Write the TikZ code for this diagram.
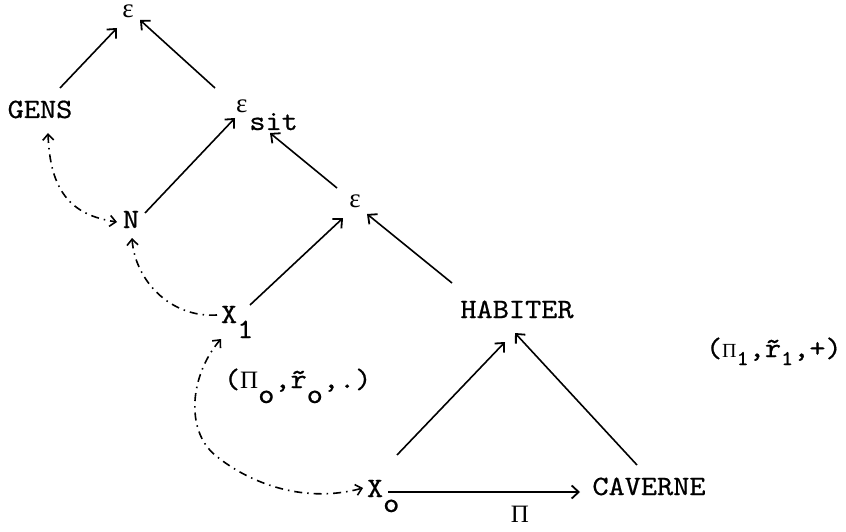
\documentclass[tikz,border=0pt]{standalone}
\usepackage{fontspec}
\usetikzlibrary{arrows.meta,calc}
\newfontfamily\tw[FakeStretch=1.1,FakeBold=0.6,Extension=.otf]{lmmono10-regular}
\newfontfamily\grk{Liberation Serif}
\newcommand\mainsz{\fontsize{28}{30}\selectfont}
\newcommand\eps{{\grk\fontsize{27}{27}\selectfont ε}}
\newcommand\bigpi{{\grk\fontsize{25}{25}\selectfont Π}}
\newcommand\smpi{{\grk\fontsize{20}{20}\selectfont Π}}
\tikzset{
  tipa/.tip={Straight Barb[length=7pt,width=13pt,line width=1.8pt]},
  tipd/.tip={Straight Barb[length=6pt,width=11pt,line width=1.6pt]},
}
\begin{document}
\begin{tikzpicture}[x=1pt,y=-1pt,
  lbl/.style={inner sep=0pt, outer sep=0pt, font=\tw\mainsz, anchor=base},
  arr/.style={-{tipa}, line width=1.6pt},
  dd/.style={line width=1.6pt, dash pattern=on 8pt off 5pt on 1.5pt off 5pt},
]
\path[use as bounding box] (0,0) rectangle (846,532);

% labels
\node[lbl] (e0) at (128,18) {\eps};
\node[lbl] (gens) at (40,118) {GENS};
\node[lbl, anchor=base west] (esit) at (236,113) {\eps\hspace{2pt}\raisebox{-17pt}{sit}};
\node[lbl] (N) at (131,228) {N};
\node[lbl] (e1) at (355,207) {\eps};
\node[lbl, anchor=base west] (x1) at (221,323) {X\raisebox{-15pt}{1}};
\node[lbl] (hab) at (517,318) {HABITER};
\node[lbl, anchor=base west] (xo) at (367,497) {X\raisebox{-15pt}{o}};
\node[lbl] (cav) at (649,495) {CAVERNE};
\node[lbl] (pi) at (520,522) {\bigpi};
\node[lbl, anchor=base west] (lab0) at (224,388)
  {(\bigpi\raisebox{-15pt}{o},\~r\raisebox{-15pt}{o},.)};
\node[lbl, anchor=base west, font=\tw\fontsize{28}{30}\selectfont] (lab1) at (706,357)
  {(\smpi\raisebox{-8pt}{\fontsize{21}{21}\selectfont 1},\~r\raisebox{-8pt}{\fontsize{21}{21}\selectfont 1},+)};

% solid arrows
\draw[arr] ($(gens.base)+(20,-30)$) -- ($(e0.base)+(-11,10)$);
\draw[arr] ($(esit.base west)+(-21,-25)$) -- ($(e0.base)+(12,2)$);
\draw[arr] ($(N.base)+(14,-15)$) -- ($(esit.base west)+(-1,5)$);
\draw[arr] ($(e1.base)+(-18,-19)$) -- ($(esit.base west)+(34,20)$);
\draw[arr] ($(x1.base west)+(29,-18)$) -- ($(e1.base)+(-12,11)$);
\draw[arr] ($(hab.base)+(-65,-35)$) -- ($(e1.base)+(12,7)$);
\draw[arr] ($(xo.base west)+(30,-42)$) -- ($(hab.base)+(-12,24)$);
\draw[arr] ($(cav.base)+(-12,-30)$) -- ($(hab.base)+(-2,15)$);
\draw[arr] ($(xo.base west)+(21,-5)$) -- ($(cav.base)+(-69,-3)$);

% dash-dot curved arrows
\draw[dd, {tipd}-{tipd}]
  ($(gens.base)+(8,15)$) .. controls (50,190) and (70,215) .. ($(N.base)+(-14,-6)$);
\draw[dd, -{tipd}]
  ($(x1.base west)+(-4,-8)$) .. controls (170,318) and (135,280) .. ($(N.base)+(1,10)$);
\draw[dd, {tipd}-{tipd}]
  ($(x1.base west)+(0,16)$) .. controls (190,375) and (185,430) .. (215,455)
  .. controls (245,480) and (300,505) .. ($(xo.base west)+(-4,-9)$);
\end{tikzpicture}
\end{document}
